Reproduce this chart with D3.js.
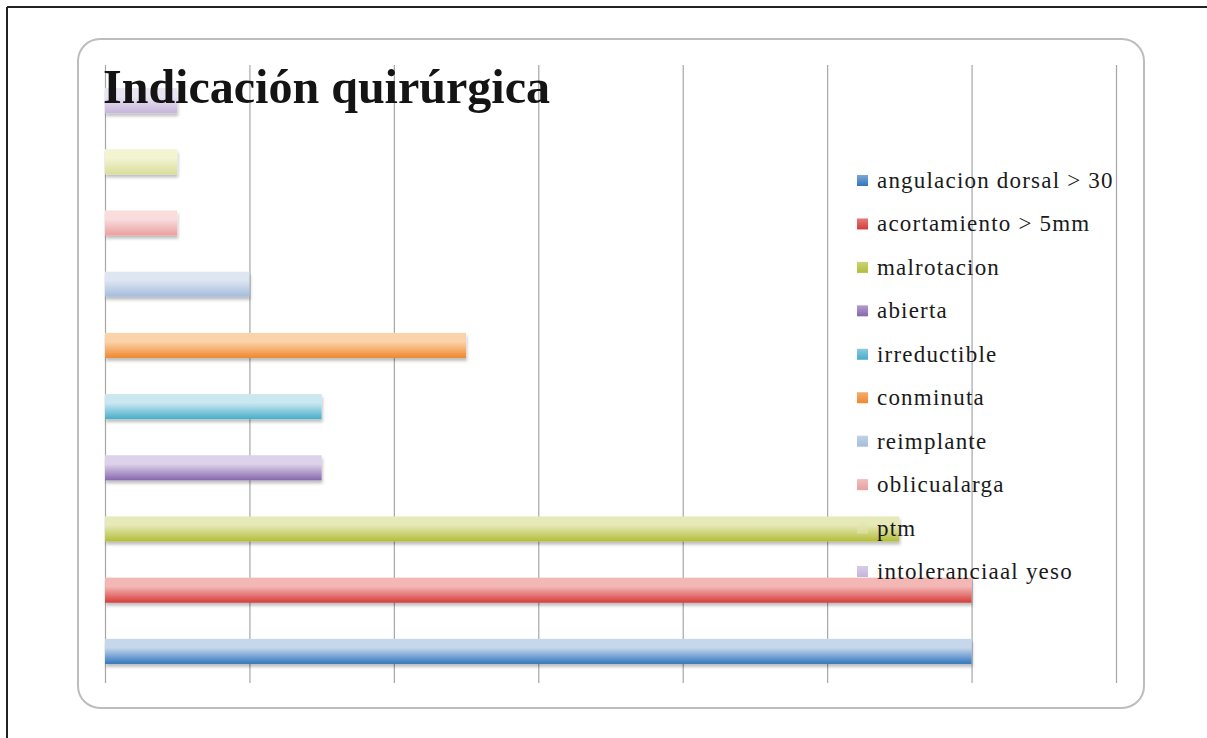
<!DOCTYPE html>
<html><head><meta charset="utf-8">
<script src="https://cdn.jsdelivr.net/npm/d3@7"></script>
<style>body{margin:0;background:#fff}svg{display:block}</style>
</head><body>
<script>
const categories = ["angulacion dorsal > 30","acortamiento > 5mm","malrotacion","abierta","irreductible","conminuta","reimplante","oblicua larga","ptm","intolerancia al yeso"];
const legendLabels = ["angulacion dorsal > 30","acortamiento > 5mm","malrotacion","abierta","irreductible","conminuta","reimplante","oblicualarga","ptm","intoleranciaal yeso"];
const values = [12, 12, 11, 3, 3, 5, 2, 1, 1, 1];
const xTicks = [0, 2, 4, 6, 8, 10, 12, 14];
const topColors = ["#c6d7ec","#f3b8b6","#e6e9b8","#ddd2ea","#cbe8f1","#fbd3ab","#dde6f1","#f9dcdc","#f3f4d2","#ebe4f2"];
const bottomColors = ["#3276bd","#d63b3b","#b2bd38","#8667ad","#47adc9","#f0872c","#a3bddc","#ea9f9f","#d9de9a","#c4b5db"];

const W = 1207, H = 738;
const svg = d3.select("body").append("svg").attr("width", W).attr("height", H);
const defs = svg.append("defs");
categories.forEach((c, i) => {
  const g = defs.append("linearGradient").attr("id", "g" + i).attr("x1", 0).attr("y1", 0).attr("x2", 0).attr("y2", 1);
  g.append("stop").attr("offset", "0%").attr("stop-color", topColors[i]);
  g.append("stop").attr("offset", "35%").attr("stop-color", topColors[i]);
  g.append("stop").attr("offset", "100%").attr("stop-color", bottomColors[i]);
  const s = defs.append("linearGradient").attr("id", "s" + i).attr("x1", 0).attr("y1", 0).attr("x2", 0).attr("y2", 1);
  s.append("stop").attr("offset", "0%").attr("stop-color", d3.interpolateRgb(topColors[i], bottomColors[i])(0.5));
  s.append("stop").attr("offset", "100%").attr("stop-color", bottomColors[i]);
});
const f = defs.append("filter").attr("id", "sh").attr("x", "-5%").attr("y", "-30%").attr("width", "110%").attr("height", "170%");
f.append("feDropShadow").attr("dx", 1).attr("dy", 3).attr("stdDeviation", 1.5).attr("flood-color", "#000").attr("flood-opacity", 0.25);

// outer frame
svg.append("line").attr("x1", 7).attr("x2", W).attr("y1", 7).attr("y2", 7).attr("stroke", "#222").attr("stroke-width", 2);
svg.append("line").attr("x1", 7).attr("x2", 7).attr("y1", 7).attr("y2", H).attr("stroke", "#222").attr("stroke-width", 2);

// chart area
svg.append("rect").attr("x", 78).attr("y", 39).attr("width", 1066).attr("height", 669).attr("rx", 22).attr("ry", 22)
  .attr("fill", "#fff").attr("stroke", "#bdbdbd").attr("stroke-width", 2);

const x = d3.scaleLinear().domain([0, 14]).range([105, 1116]);
const y = d3.scaleBand().domain(categories).range([682, 70]).paddingInner(0.59).paddingOuter(0.295);

// gridlines
const grid = svg.append("g").attr("transform", "translate(0,683)")
  .call(d3.axisBottom(x).tickValues(xTicks).tickSize(-618).tickFormat(""));
grid.select(".domain").remove();
grid.selectAll(".tick line").attr("stroke", "#a6a6a6").attr("stroke-width", 1.2);

// bars
svg.append("g").selectAll("rect").data(categories).join("rect")
  .attr("x", x(0)).attr("y", d => y(d))
  .attr("width", (d, i) => x(values[i]) - x(0)).attr("height", y.bandwidth())
  .attr("fill", (d, i) => `url(#g${i})`).attr("filter", "url(#sh)");

// title
svg.append("text").attr("x", 103).attr("y", 103).text("Indicación quirúrgica")
  .attr("font-family", "Liberation Serif, serif").attr("font-weight", "bold").attr("font-size", 48)
  .attr("fill", "#141414").attr("textLength", 447).attr("lengthAdjust", "spacingAndGlyphs");

// legend
const lg = svg.append("g");
const ly = d3.scaleLinear().domain([0, 9]).range([180, 571]);
legendLabels.forEach((t, i) => {
  lg.append("rect").attr("x", 857).attr("y", ly(i) - 5).attr("width", 11).attr("height", 11).attr("fill", `url(#s${i})`);
  lg.append("text").attr("x", 877).attr("y", ly(i) + 8).text(t)
    .attr("font-family", "Liberation Serif, serif").attr("font-size", 23).attr("letter-spacing", 1.2).attr("fill", "#1a1a1a");
});
</script>
</body></html>
